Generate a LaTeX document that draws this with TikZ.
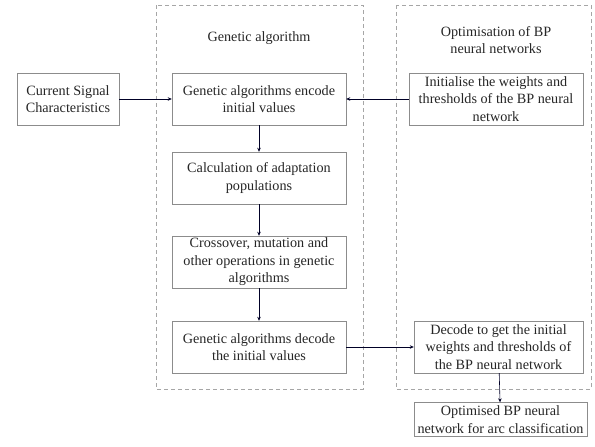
\documentclass[tikz,border=0pt]{standalone}
\usepackage{fontspec}
\setmainfont{Liberation Serif}
\usetikzlibrary{arrows.meta}

\begin{document}
\begin{tikzpicture}[x=1pt,y=-1pt,
  box/.style={draw=gray!90,fill=white,align=center,inner sep=0pt,minimum height=52pt,
    font=\fontsize{14.2}{17.5}\selectfont,text=black!85},
  frame/.style={draw=gray!70,dash pattern=on 4pt off 3pt},
  arr/.style={-{Stealth[length=4pt,width=3.5pt]},draw=black!75!blue!60!black,semithick}]
\useasboundingbox (0,0) rectangle (595,447);
% dashed frames
\draw[frame] (156,5) rectangle (363,389);
\draw[frame] (396,5) rectangle (591,389);
\node[font=\fontsize{14.2}{17.5}\selectfont,text=black!85] (tga) at (259,38) {Genetic algorithm};
\node[font=\fontsize{14.2}{17.5}\selectfont,text=black!85,align=center] (tbp) at (496,40) {Optimisation of BP\\neural networks};
% boxes
\node[box,minimum width=102pt] (sig) at (68,99) {Current Signal\\Characteristics};
\node[box,minimum width=174pt] (enc) at (259,99) {Genetic algorithms encode\\initial values};
\node[box,minimum width=174pt] (init) at (496,99) {Initialise the weights and\\thresholds of the BP neural\\network};
\node[box,minimum width=174pt] (calc) at (259,178) {Calculation of adaptation\\populations};
\node[box,minimum width=174pt] (cross) at (259,262) {Crossover, mutation and\\other operations in genetic\\algorithms};
\node[box,minimum width=174pt] (dec) at (259,347) {Genetic algorithms decode\\the initial values};
\node[box,minimum width=169pt] (getw) at (498.5,347) {Decode to get the initial\\weights and thresholds of\\the BP neural network};
\node[box,minimum width=173pt,minimum height=34pt] (opt) at (500.5,419.5) {Optimised BP neural\\network for arc classification};
% connectors
\draw[arr] (sig) -- (enc);
\draw[arr] (init) -- (enc);
\draw[arr] (enc) -- (calc);
\draw[arr] (calc) -- (cross);
\draw[arr] (cross) -- (dec);
\draw[arr] (dec) -- (getw);
\draw[arr] (getw) -- (opt);
\end{tikzpicture}
\end{document}
